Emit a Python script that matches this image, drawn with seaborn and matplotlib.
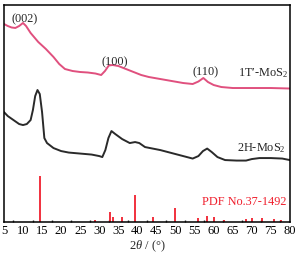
import numpy as np
import pandas as pd
import matplotlib
matplotlib.use("Agg")
import matplotlib.pyplot as plt
import seaborn as sns
from matplotlib.ticker import MultipleLocator

sns.set_theme(style="white")
plt.rcParams['font.family'] = ['Liberation Serif', 'DejaVu Serif']
plt.rcParams['mathtext.fontset'] = 'custom'
plt.rcParams['mathtext.rm'] = 'Liberation Serif'
plt.rcParams['mathtext.it'] = 'Liberation Serif:italic'

# 1T'-MoS2 curve (2theta, intensity a.u.)
t1_x = [5, 6, 7, 8, 9, 10, 10.8, 12, 14, 16, 18, 19.5, 21, 23, 25, 27, 29, 30.5,
        31.5, 32.5, 33.5, 35, 37, 39, 41, 43, 46, 49, 52, 54.5, 56, 57.3, 58.5,
        60, 62, 65, 70, 75, 80]
t1_y = [198, 196, 194.5, 194, 196, 199, 196, 189, 180, 173, 165, 158, 153, 151,
        150, 149.5, 148.5, 147, 151, 156.5, 157, 156, 153, 150, 147, 145, 143,
        141, 139, 138, 140.5, 144, 140, 137, 135, 134, 134, 134, 133.5]

# 2H-MoS2 curve
h2_x = [5, 6, 7.5, 9, 10, 11, 12, 12.6, 13.2, 13.8, 14.4, 15, 15.6, 16.3, 18, 20,
        22, 25, 28, 30, 30.8, 31.6, 32.4, 33.2, 34.2, 36, 38, 39.4, 40.5, 42, 44,
        46, 48, 50, 52, 54.5, 56, 57.2, 58.3, 59.5, 61, 63, 66, 68.5, 70, 72, 75,
        78, 80]
h2_y = [110, 106, 102, 98, 97, 98, 102, 112, 126, 132, 128, 110, 84, 79, 74, 71,
        69.5, 68.5, 67.5, 66, 65, 72, 84, 91, 88, 83, 79, 80, 79, 75, 73.5, 72,
        70, 68, 66, 63.5, 66, 71, 73.5, 70, 65, 62, 61.5, 61.5, 63, 64, 64, 63.5,
        62]

# PDF No.37-1492 reference lines
pdf_x = [14.4, 29.0, 32.7, 33.5, 35.9, 39.5, 44.2, 49.8, 56.0, 58.3, 60.1,
         62.8, 68.5, 70.1, 72.8, 75.9, 77.6]
pdf_h = [46, 2, 10, 5, 5, 27, 5, 14, 4, 6, 5, 2, 3, 4, 4, 3, 2]

x_ticks = list(range(5, 81, 5))

fig = plt.figure(figsize=(3.02, 2.61), dpi=100)
ax = fig.add_axes([0.013, 0.149, 0.947, 0.832])

df1 = pd.DataFrame({"x": t1_x, "y": t1_y})
df2 = pd.DataFrame({"x": h2_x, "y": h2_y})
sns.lineplot(data=df1, x="x", y="y", ax=ax, color="#E0507E", lw=1.4)
sns.lineplot(data=df2, x="x", y="y", ax=ax, color="#2a2a2a", lw=1.4)
ax.vlines(pdf_x, 0, pdf_h, color="#F0202E", lw=1.3)

ax.set_xlim(5, 80)
ax.set_ylim(0, 217)
ax.set_xticks(x_ticks)
ax.xaxis.set_minor_locator(MultipleLocator(2.5))
ax.set_yticks([])
ax.tick_params(axis='x', which='major', direction='in', length=3, width=1,
               labelsize=9, pad=2, colors='black')
ax.tick_params(axis='x', which='minor', direction='in', length=1.5, width=1,
               bottom=True)
ax.set_xlabel(r"2$\mathit{\theta}$ / (°)", fontsize=9, labelpad=1)
ax.set_ylabel("")
for s in ax.spines.values():
    s.set_color("black")
    s.set_linewidth(1.1)

ax.text(10.5, 203, "(002)", fontsize=8.8, ha="center", va="center")
ax.text(34.1, 160, "(100)", fontsize=8.8, ha="center", va="center")
ax.text(58.0, 150, "(110)", fontsize=8.8, ha="center", va="center")
ax.text(79.5, 149, "1T′-MoS$_2$", fontsize=8.8, ha="right", va="center")
ax.text(79.0, 74, "2H-MoS$_2$", fontsize=8.8, ha="right", va="center")
ax.text(79.0, 20, "PDF No.37-1492", fontsize=8.8, ha="right", va="center",
        color="#F0202E")

fig.savefig("out.png", dpi=100)
